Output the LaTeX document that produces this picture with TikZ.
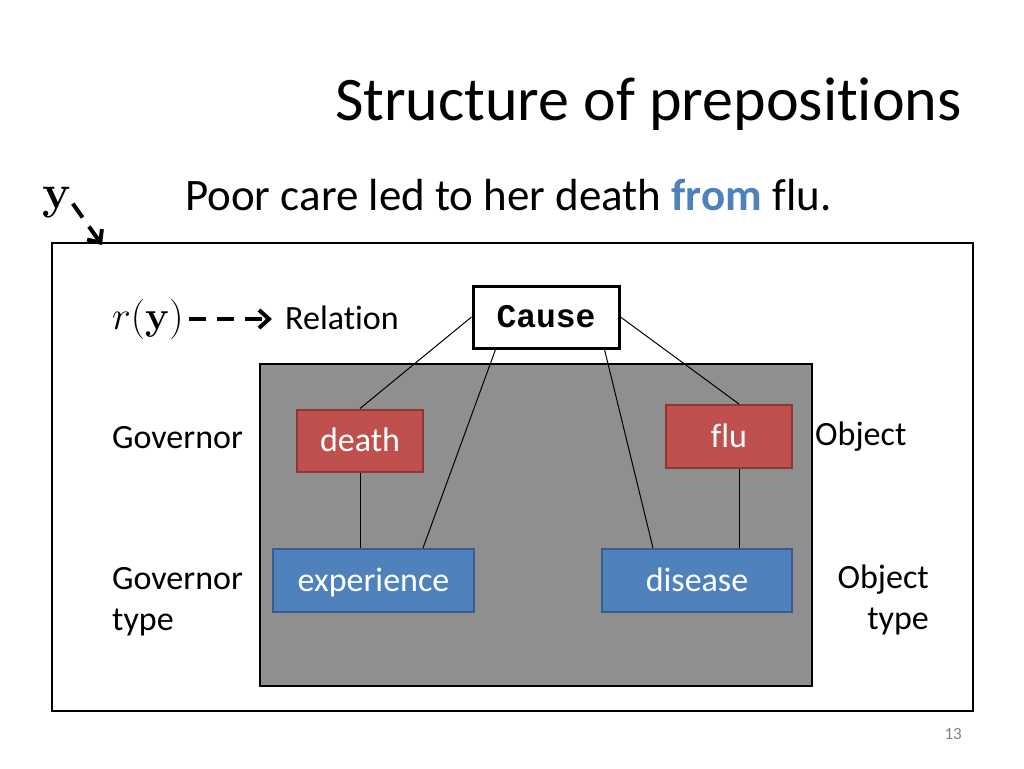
\RequirePackage{fix-cm}
\documentclass[tikz,border=0pt]{standalone}
\usepackage[no-math]{fontspec}
\setmainfont{Carlito}[Ligatures={CommonOff,ContextualOff},Contextuals=AlternateOff]
\setmonofont{Liberation Mono}
\usepackage{amsmath}
\usetikzlibrary{arrows.meta}
\definecolor{wordred}{RGB}{192,80,77}
\definecolor{wordredline}{RGB}{140,56,54}
\definecolor{typeblue}{RGB}{79,129,189}
\definecolor{typeblueline}{RGB}{56,93,138}
\definecolor{panelgray}{RGB}{143,143,143}
\newcommand\slidetitlefont{\fontsize{62}{74}\selectfont}
\newcommand\sentfont{\fontsize{45}{54}\selectfont}
\newcommand\sidefont{\fontsize{34}{41}\selectfont}
\tikzstyle{wordbox} = [draw=wordredline,fill=wordred,line width=2pt,text=white,font=\sidefont,minimum height=62pt,text height=26pt,text depth=4pt]
\tikzstyle{typebox} = [draw=typeblueline,fill=typeblue,line width=2pt,text=white,font=\sidefont,minimum height=63pt,text height=26pt,text depth=4pt]
\tikzstyle{side} = [font=\sidefont,inner sep=0pt]
\tikzstyle{link} = [line width=1pt]
\tikzstyle{dasharrow} = [line width=4pt,dash pattern=on 17pt off 11pt,-{Straight Barb[length=10pt,width=18pt]}]

\begin{document}
\begin{tikzpicture}[x=1pt,y=-1pt]
\useasboundingbox (0,0) rectangle (1024,768);
\node[font=\slidetitlefont,anchor=base east,inner sep=0pt] (title) at (962,120) {Structure of prepositions};
\node[font=\sentfont,anchor=base west,inner sep=0pt] (sent) at (185,210) {Poor care led to her death \textbf{\textcolor{typeblue}{from}} flu.};
\node[inner sep=0pt,anchor=base west] (yvar) at (42,208) {\fontsize{48}{48}\selectfont$\mathbf{y}$};
\coordinate (ytip) at (102,245);

\draw[line width=2pt] (52,243) rectangle (973,711);
\draw[fill=panelgray,line width=2pt] (260,364) rectangle (812,686);
\draw[dasharrow,shorten <=2pt] (yvar.east) -- (ytip);

\node[draw,line width=3pt,fill=white,font=\fontsize{33}{40}\selectfont\ttfamily\bfseries,minimum width=146pt,minimum height=62pt] (cause) at (546,317) {Cause};
\node[wordbox,minimum width=126pt] (death) at (360,440.5) {death};
\node[wordbox,minimum width=126pt,minimum height=63pt] (flu) at (729,436.5) {flu};
\node[typebox,minimum width=201pt] (exper) at (373.5,580.5) {experience};
\node[typebox,minimum width=190pt] (disease) at (697,580.5) {disease};

\node[side,anchor=base west,font=\fontsize{40}{48}\selectfont] (ry) at (112,329) {$r(\mathbf{y})$};
\node[side,anchor=base west] (rel) at (285,329) {Relation};
\node[side,anchor=base west] (gov) at (112,448) {Governor};
\node[side,anchor=base west] (obj) at (815,445) {Object};
\node[side,anchor=base west,align=left] (govtype) at (112,630) {Governor\\type};
\node[side,anchor=base east,align=right] (objtype) at (929,629) {Object\\type};
\node[font=\fontsize{17}{20}\selectfont,text=gray,anchor=base east,inner sep=0pt] (pgnum) at (962,739) {13};

\draw[dasharrow,shorten <=5pt,shorten >=13pt] (ry.east) -- (ry.east -| rel.west);

\draw[link] (cause.west) -- (death.north);
\draw[link] (cause.east) -- ([xshift=10pt]flu.north);
\draw[link] ([xshift=24pt]cause.south west) -- ([xshift=-52pt]exper.north east);
\draw[link] ([xshift=-16pt]cause.south east) -- ([xshift=-44pt]disease.north);
\draw[link] (death.south) -- (death.south |- exper.north);
\draw[link] ([xshift=10pt]flu.south) -- ([xshift=10pt]flu.south |- disease.north);
\end{tikzpicture}
\end{document}
